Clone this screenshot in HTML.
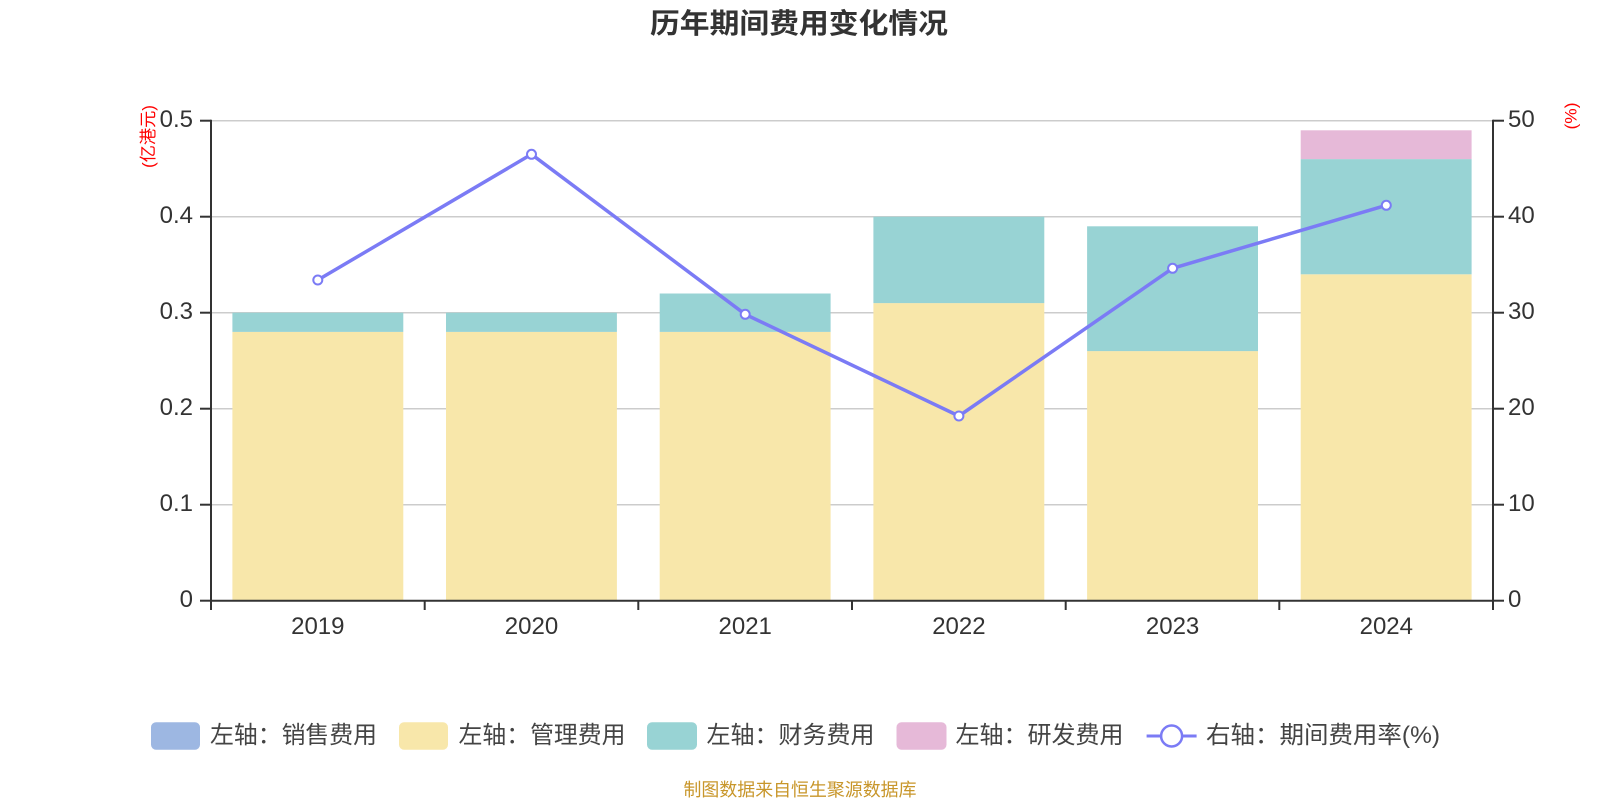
<!DOCTYPE html>
<html>
<head>
<meta charset="utf-8">
<style>
  html, body { margin: 0; padding: 0; background: #fff; }
  svg { display: block; }
  text { font-family: "Liberation Sans", "Noto Sans CJK SC", sans-serif; }
</style>
</head>
<body>
<svg width="1600" height="800" viewBox="0 0 1600 800" xmlns="http://www.w3.org/2000/svg">
  <rect width="1600" height="800" fill="#fff"/>

  <!-- Title -->
  <text x="799" y="33" text-anchor="middle" font-size="28" font-weight="bold" fill="#333" textLength="298" lengthAdjust="spacingAndGlyphs">历年期间费用变化情况</text>

  <!-- Grid lines -->
  <g stroke="#cccccc" stroke-width="1.5">
    <line x1="211" y1="120.7" x2="1493" y2="120.7"/>
    <line x1="211" y1="216.7" x2="1493" y2="216.7"/>
    <line x1="211" y1="312.7" x2="1493" y2="312.7"/>
    <line x1="211" y1="408.7" x2="1493" y2="408.7"/>
    <line x1="211" y1="504.7" x2="1493" y2="504.7"/>
  </g>

  <!-- Bars -->
  <g>
    <!-- 2019 -->
    <rect x="232.4" y="331.9" width="170.9" height="268.8" fill="#f8e7aa"/>
    <rect x="232.4" y="312.7" width="170.9" height="19.2" fill="#98d3d4"/>
    <!-- 2020 -->
    <rect x="446.0" y="331.9" width="170.9" height="268.8" fill="#f8e7aa"/>
    <rect x="446.0" y="312.7" width="170.9" height="19.2" fill="#98d3d4"/>
    <!-- 2021 -->
    <rect x="659.7" y="331.9" width="170.9" height="268.8" fill="#f8e7aa"/>
    <rect x="659.7" y="293.5" width="170.9" height="38.4" fill="#98d3d4"/>
    <!-- 2022 -->
    <rect x="873.4" y="303.1" width="170.9" height="297.6" fill="#f8e7aa"/>
    <rect x="873.4" y="216.7" width="170.9" height="86.4" fill="#98d3d4"/>
    <!-- 2023 -->
    <rect x="1087.1" y="351.1" width="170.9" height="249.6" fill="#f8e7aa"/>
    <rect x="1087.1" y="226.3" width="170.9" height="124.8" fill="#98d3d4"/>
    <!-- 2024 -->
    <rect x="1300.7" y="274.3" width="170.9" height="326.4" fill="#f8e7aa"/>
    <rect x="1300.7" y="159.1" width="170.9" height="115.2" fill="#98d3d4"/>
    <rect x="1300.7" y="130.3" width="170.9" height="28.8" fill="#e6b9d8"/>
  </g>

  <!-- Axes -->
  <g stroke="#333" stroke-width="2">
    <line x1="211" y1="119.7" x2="211" y2="601.7"/>
    <line x1="1493" y1="119.7" x2="1493" y2="601.7"/>
    <line x1="210" y1="600.7" x2="1494" y2="600.7"/>
    <!-- left ticks -->
    <line x1="200" y1="120.7" x2="211" y2="120.7"/>
    <line x1="200" y1="216.7" x2="211" y2="216.7"/>
    <line x1="200" y1="312.7" x2="211" y2="312.7"/>
    <line x1="200" y1="408.7" x2="211" y2="408.7"/>
    <line x1="200" y1="504.7" x2="211" y2="504.7"/>
    <line x1="200" y1="600.7" x2="211" y2="600.7"/>
    <!-- right ticks -->
    <line x1="1493" y1="120.7" x2="1504" y2="120.7"/>
    <line x1="1493" y1="216.7" x2="1504" y2="216.7"/>
    <line x1="1493" y1="312.7" x2="1504" y2="312.7"/>
    <line x1="1493" y1="408.7" x2="1504" y2="408.7"/>
    <line x1="1493" y1="504.7" x2="1504" y2="504.7"/>
    <line x1="1493" y1="600.7" x2="1504" y2="600.7"/>
    <!-- bottom ticks -->
    <line x1="211" y1="600.7" x2="211" y2="610"/>
    <line x1="424.7" y1="600.7" x2="424.7" y2="610"/>
    <line x1="638.3" y1="600.7" x2="638.3" y2="610"/>
    <line x1="852" y1="600.7" x2="852" y2="610"/>
    <line x1="1065.7" y1="600.7" x2="1065.7" y2="610"/>
    <line x1="1279.3" y1="600.7" x2="1279.3" y2="610"/>
    <line x1="1493" y1="600.7" x2="1493" y2="610"/>
  </g>

  <!-- Left axis labels -->
  <g font-size="24" fill="#333" text-anchor="end">
    <text x="193" y="127">0.5</text>
    <text x="193" y="223">0.4</text>
    <text x="193" y="319">0.3</text>
    <text x="193" y="415">0.2</text>
    <text x="193" y="511">0.1</text>
    <text x="193" y="607">0</text>
  </g>
  <!-- Right axis labels -->
  <g font-size="24" fill="#333" text-anchor="start">
    <text x="1508" y="127">50</text>
    <text x="1508" y="223">40</text>
    <text x="1508" y="319">30</text>
    <text x="1508" y="415">20</text>
    <text x="1508" y="511">10</text>
    <text x="1508" y="607">0</text>
  </g>
  <!-- Category labels -->
  <g font-size="24" fill="#333" text-anchor="middle">
    <text x="317.8" y="634">2019</text>
    <text x="531.5" y="634">2020</text>
    <text x="745.2" y="634">2021</text>
    <text x="958.9" y="634">2022</text>
    <text x="1172.6" y="634">2023</text>
    <text x="1386.3" y="634">2024</text>
  </g>

  <!-- Axis unit labels -->
  <text transform="translate(154,136.5) rotate(-90)" font-size="17" fill="#ff0000" text-anchor="middle" textLength="63" lengthAdjust="spacingAndGlyphs">(亿港元)</text>
  <text transform="translate(1576.5,116) rotate(-90)" font-size="17" fill="#ff0000" text-anchor="middle" textLength="27" lengthAdjust="spacingAndGlyphs">(%)</text>

  <!-- Line series -->
  <polyline points="317.8,280.0 531.5,154.3 745.2,314.3 958.9,416.0 1172.6,268.3 1386.3,205.3" fill="none" stroke="#7b7bf5" stroke-width="3.5" stroke-linejoin="round"/>
  <g fill="#fff" stroke="#7b7bf5" stroke-width="2">
    <circle cx="317.8" cy="280.0" r="4.5"/>
    <circle cx="531.5" cy="154.3" r="4.5"/>
    <circle cx="745.2" cy="314.3" r="4.5"/>
    <circle cx="958.9" cy="416.0" r="4.5"/>
    <circle cx="1172.6" cy="268.3" r="4.5"/>
    <circle cx="1386.3" cy="205.3" r="4.5"/>
  </g>

  <!-- Legend -->
  <g font-size="24" fill="#444">
    <rect x="151" y="722.3" width="49" height="27.4" rx="5" fill="#9db7e2"/>
    <text x="210" y="743" textLength="167" lengthAdjust="spacingAndGlyphs">左轴：销售费用</text>

    <rect x="399" y="722.3" width="49" height="27.4" rx="5" fill="#f8e7aa"/>
    <text x="458.5" y="743" textLength="167" lengthAdjust="spacingAndGlyphs">左轴：管理费用</text>

    <rect x="647" y="722.3" width="50" height="27.4" rx="5" fill="#98d3d4"/>
    <text x="706.5" y="743" textLength="168" lengthAdjust="spacingAndGlyphs">左轴：财务费用</text>

    <rect x="896.5" y="722.3" width="50" height="27.4" rx="5" fill="#e6b9d8"/>
    <text x="955.5" y="743" textLength="168" lengthAdjust="spacingAndGlyphs">左轴：研发费用</text>

    <line x1="1146.6" y1="736" x2="1196.6" y2="736" stroke="#7b7bf5" stroke-width="3"/>
    <circle cx="1171.6" cy="736" r="10.5" fill="#fff" stroke="#7b7bf5" stroke-width="2.5"/>
    <text x="1206" y="743" textLength="234" lengthAdjust="spacingAndGlyphs">右轴：期间费用率(%)</text>
  </g>

  <!-- Footer -->
  <text x="800" y="796" font-size="18" fill="#c8962a" text-anchor="middle" textLength="233" lengthAdjust="spacingAndGlyphs">制图数据来自恒生聚源数据库</text>
</svg>
</body>
</html>
